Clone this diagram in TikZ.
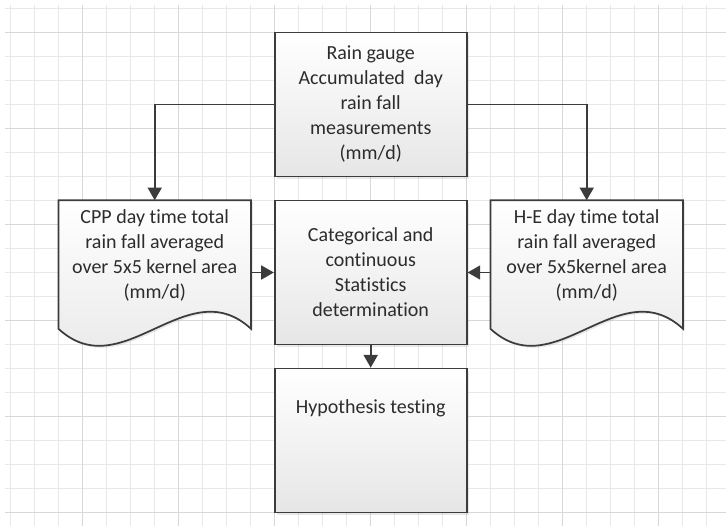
\documentclass[tikz,border=0pt]{standalone}
\usepackage{fontspec}
\setmainfont[Ligatures=NoCommon]{Carlito}
\usepackage{tikz}
\usetikzlibrary{arrows.meta,positioning,shadows}
\definecolor{edgeGray}{HTML}{3C3C3C}
\definecolor{inkGray}{HTML}{2C2C2C}
\definecolor{gridMinor}{HTML}{E8E8E8}
\definecolor{gridMajor}{HTML}{D8D8D8}
\definecolor{fillLow}{HTML}{E6E6E6}

\tikzset{
  softshadow/.style={drop shadow={shadow xshift=1.5pt,shadow yshift=-1.5pt,opacity=0.18}},
  procbox/.style={draw=edgeGray,line width=1.3pt,top color=white,bottom color=fillLow,
    softshadow,minimum width=144pt,minimum height=108pt,inner sep=0pt,
    align=center,text=inkGray},
  docframe/.style={minimum width=144pt,minimum height=108pt,inner sep=0pt},
  docline/.style={draw=edgeGray,line width=1.3pt,top color=white,bottom color=fillLow,softshadow},
  boxtext/.style={inner sep=0pt,align=center,text=inkGray},
  flow/.style={draw=edgeGray,line width=1.3pt,-{Triangle[length=9.5pt,width=10.5pt]}},
}

\begin{document}
\begin{tikzpicture}[x=0.75pt,y=-0.75pt,font=\fontsize{15pt}{18.75pt}\selectfont]
  \useasboundingbox (0,0) rectangle (726,526);
  % sheet grid
  \foreach \k in {0,...,29}
    \draw[gridMinor,line width=1pt] (10.7+24*\k,5) -- (10.7+24*\k,526);
  \foreach \k in {0,...,21}
    \draw[gridMinor,line width=1pt] (5,8.5+24*\k) -- (726,8.5+24*\k);
  \foreach \k in {0,...,6}
    \draw[gridMajor,line width=1pt] (82.7+96*\k,5) -- (82.7+96*\k,526);
  \foreach \k in {0,...,5}
    \draw[gridMajor,line width=1pt] (5,32.5+96*\k) -- (726,32.5+96*\k);

  % process boxes
  \node[procbox] (gauge) at (370.7,104.5)
    {Rain gauge\\Accumulated\ \ day\\rain fall\\measurements\\(mm/d)};
  \node[procbox] (stats) at (370.7,272.5)
    {Categorical and\\continuous\\Statistics\\determination};
  \node[procbox] (hypo) at (370.7,440.5) {};
  \node[boxtext,below=24pt of hypo.north] (hypotext) {Hypothesis testing};

  % document shapes
  \foreach \doc/\cx in {cpp/154.7,he/586.7} {
    \node[docframe] (\doc) at (\cx,272.5) {};
    \draw[docline] (\doc.north west) -- (\doc.north east) -- ([yshift=12pt]\doc.south east)
      .. controls ([xshift=-48pt,yshift=56.25pt]\doc.south east)
      and ([xshift=48pt,yshift=-32.25pt]\doc.south west) .. ([yshift=12pt]\doc.south west) -- cycle;
  }
  \node[boxtext,below=6.5pt of cpp.north] (cpptext)
    {CPP day time total\\rain fall averaged\\over 5x5 kernel area\\(mm/d)};
  \node[boxtext,below=6.5pt of he.north] (hetext)
    {H-E day time total\\rain fall averaged\\over 5x5kernel area\\(mm/d)};

  % connectors
  \draw[flow] (gauge.west) -| (cpp.north);
  \draw[flow] (gauge.east) -| (he.north);
  \draw[flow] (cpp.east) -- (stats.west);
  \draw[flow] (he.west) -- (stats.east);
  \draw[flow] (stats.south) -- (hypo.north);
\end{tikzpicture}
\end{document}
